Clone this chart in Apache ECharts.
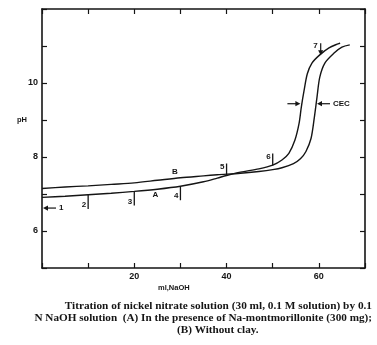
<!DOCTYPE html>
<html>
<head>
<meta charset="utf-8">
<script src="https://cdn.jsdelivr.net/npm/echarts@6/dist/echarts.min.js"></script>
<style>
html,body{margin:0;padding:0;background:#fff;}
#c{width:377px;height:345px;}
</style>
</head>
<body>
<div id="c"></div>
<script>
// ---- data ----
const xTickLabels = [20, 40, 60];
const yTickLabels = [6, 8, 10];

// Curve A: in presence of Na-montmorillonite
const xA  = [0, 5, 10, 15, 20, 25, 30, 35, 38, 40, 43, 47, 50, 52, 53.5, 54.8, 55.7, 56.2, 56.8, 57.5, 58.5, 60.2, 62.2, 64.6];
const phA = [6.91, 6.94, 6.98, 7.02, 7.07, 7.13, 7.21, 7.33, 7.43, 7.5, 7.59, 7.68, 7.78, 7.92, 8.1, 8.45, 8.9, 9.35, 9.8, 10.25, 10.54, 10.76, 10.95, 11.08];

// Curve B: without clay
const xB  = [0, 5, 10, 15, 20, 25, 30, 35, 38, 43, 47, 50, 52, 54.5, 56, 57.2, 58.3, 59, 59.6, 60.2, 61.3, 63.3, 65, 66.7];
const phB = [7.15, 7.19, 7.22, 7.26, 7.3, 7.37, 7.44, 7.49, 7.52, 7.56, 7.61, 7.66, 7.71, 7.82, 7.95, 8.15, 8.5, 9.05, 9.62, 10.16, 10.54, 10.81, 10.97, 11.03];

// numbered points on curve A
const markLabels = ['2', '3', '4', '5', '6', '7'];
const markX  = [10, 20, 30, 40, 50, 60.4];
const markPH = [6.97, 7.07, 7.21, 7.5, 7.77, 10.75];

// point 1 (arrow at the axis)
const firstLabel = '1';
const firstX = 0;
const firstPH = 6.62;

// CEC arrows
const cecX  = [56.0, 59.6];
const cecPH = [9.44, 9.44];

// curve names
const curveNames = ['A', 'B'];
const curveNameX = [24.6, 28.8];
const curveNamePH = [6.97, 7.6];

const captionLines = [
  'Titration of nickel nitrate solution (30 ml, 0.1 M solution) by 0.1',
  'N NaOH solution  (A) In the presence of Na-montmorillonite (300 mg);',
  '(B) Without clay.'
];

// ---- chart ----
const zip = (a, b) => a.map((v, i) => [v, b[i]]);
const INK = '#151515';
const sansFont = 'Liberation Sans';
const chart = echarts.init(document.getElementById('c'), null, {renderer: 'canvas'});

function arrowHead(x, y, dx, dy) {
  const L = 5, W = 2.6;
  const bx = x - dx * L, by = y - dy * L;
  const px = -dy, py = dx;
  return {type: 'polygon', shape: {points: [[x, y], [bx + px * W, by + py * W], [bx - px * W, by - py * W]]}, style: {fill: INK}};
}
const numStyle = (txt, x, y, align) => ({type: 'text', style: {text: txt, x: x, y: y, align: align || 'right', verticalAlign: 'middle', font: 'bold 8px ' + sansFont, fill: INK}});

const axisCommon = {
  type: 'value', min: 0, max: 70, interval: 10,
  axisLine: {show: true, onZero: false, lineStyle: {color: INK, width: 1.6}},
  axisTick: {show: true, inside: true, length: 5, lineStyle: {color: INK, width: 1.2}},
  splitLine: {show: false}
};
const yCommon = {
  type: 'value', min: 5, max: 12, interval: 1,
  axisLine: {show: true, onZero: false, lineStyle: {color: INK, width: 1.6}},
  axisTick: {show: true, inside: true, length: 5, lineStyle: {color: INK, width: 1.2}},
  splitLine: {show: false}
};

chart.setOption({
  animation: false,
  backgroundColor: '#fff',
  grid: {left: 42, right: 12, top: 9, bottom: 77},
  xAxis: [
    Object.assign({}, axisCommon, {position: 'bottom',
      axisLabel: {margin: 4, color: INK, fontFamily: sansFont, fontWeight: 'bold', fontSize: 9,
        formatter: v => xTickLabels.includes(v) ? String(v) : ''}}),
    Object.assign({}, axisCommon, {position: 'top', axisLabel: {show: false}})
  ],
  yAxis: [
    Object.assign({}, yCommon, {position: 'left',
      axisLabel: {margin: 4, color: INK, fontFamily: sansFont, fontWeight: 'bold', fontSize: 9,
        formatter: v => yTickLabels.includes(v) ? String(v) : ''}}),
    Object.assign({}, yCommon, {position: 'right', axisLabel: {show: false}})
  ],
  series: [
    {type: 'line', name: 'A', data: zip(xA, phA), showSymbol: false, symbol: 'none', smooth: 0.3,
      lineStyle: {color: INK, width: 1.4}},
    {type: 'line', name: 'B', data: zip(xB, phB), showSymbol: false, symbol: 'none', smooth: 0.3,
      lineStyle: {color: INK, width: 1.4}},
    {type: 'custom', name: 'marks', data: zip(markX, markPH).map((d, i) => d.concat([i])),
      renderItem(params, api) {
        const i = api.value(2);
        const p = api.coord([api.value(0), api.value(1)]);
        const lab = markLabels[i];
        if (i <= 2) {
          return {type: 'group', children: [
            {type: 'line', shape: {x1: p[0], y1: p[1], x2: p[0], y2: p[1] + 14}, style: {stroke: INK, lineWidth: 1.3}},
            numStyle(lab, p[0] - 2, p[1] + 10)
          ]};
        } else if (i <= 4) {
          return {type: 'group', children: [
            {type: 'line', shape: {x1: p[0], y1: p[1] - 12, x2: p[0], y2: p[1]}, style: {stroke: INK, lineWidth: 1.3}},
            numStyle(lab, p[0] - 2, p[1] - 9)
          ]};
        }
        return {type: 'group', children: [
          {type: 'line', shape: {x1: p[0], y1: p[1] - 12, x2: p[0], y2: p[1] - 3}, style: {stroke: INK, lineWidth: 1.2}},
          arrowHead(p[0], p[1], 0, 1),
          numStyle(lab, p[0] - 3, p[1] - 9)
        ]};
      }},
    {type: 'custom', name: 'first', data: [[firstX, firstPH]],
      renderItem(params, api) {
        const p = api.coord([api.value(0), api.value(1)]);
        return {type: 'group', children: [
          {type: 'line', shape: {x1: p[0] + 3, y1: p[1], x2: p[0] + 14, y2: p[1]}, style: {stroke: INK, lineWidth: 1.2}},
          arrowHead(p[0] + 1, p[1], -1, 0),
          numStyle(firstLabel, p[0] + 17, p[1], 'left')
        ]};
      }},
    {type: 'custom', name: 'cec', data: zip(cecX, cecPH).map((d, i) => d.concat([i])),
      renderItem(params, api) {
        const i = api.value(2);
        const p = api.coord([api.value(0), api.value(1)]);
        if (i === 0) {
          return {type: 'group', children: [
            {type: 'line', shape: {x1: p[0] - 13, y1: p[1], x2: p[0] - 3, y2: p[1]}, style: {stroke: INK, lineWidth: 1.2}},
            arrowHead(p[0], p[1], 1, 0)
          ]};
        }
        return {type: 'group', children: [
          {type: 'line', shape: {x1: p[0] + 3, y1: p[1], x2: p[0] + 13, y2: p[1]}, style: {stroke: INK, lineWidth: 1.2}},
          arrowHead(p[0], p[1], -1, 0),
          numStyle('CEC', p[0] + 16, p[1], 'left')
        ]};
      }},
    {type: 'custom', name: 'names', data: zip(curveNameX, curveNamePH).map((d, i) => d.concat([i])),
      renderItem(params, api) {
        const i = api.value(2);
        const p = api.coord([api.value(0), api.value(1)]);
        return numStyle(curveNames[i], p[0], p[1], 'center');
      }}
  ],
  graphic: [
    {type: 'text', left: 17, top: 116, style: {text: 'pH', font: 'bold 7.5px ' + sansFont, fill: INK}},
    {type: 'text', left: 158, top: 284, style: {text: 'ml,NaOH', font: 'bold 7.5px ' + sansFont, fill: INK}},
    {type: 'text', right: 5, top: 301, style: {text: captionLines[0], font: 'bold 11.3px "Liberation Serif"', fill: INK}},
    {type: 'text', right: 5, top: 313, style: {text: captionLines[1], font: 'bold 11.2px "Liberation Serif"', fill: INK}},
    {type: 'text', left: 177, top: 325, style: {text: captionLines[2], font: 'bold 11.2px "Liberation Serif"', fill: INK}}
  ]
});
</script>
</body>
</html>
